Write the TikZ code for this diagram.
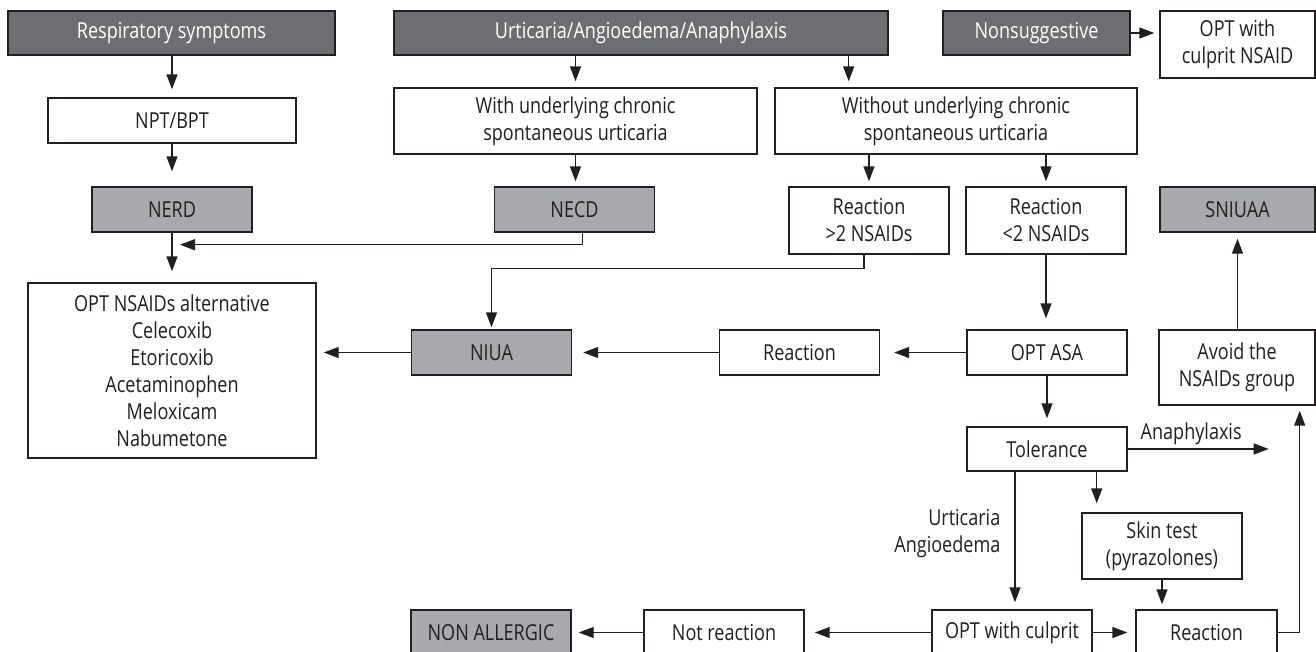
\documentclass[tikz,border=0pt]{standalone}
\usepackage{fontspec}
\setmainfont{Open Sans}[FakeStretch=0.82]
\usepackage{tikz}
\usetikzlibrary{arrows.meta,calc}
\definecolor{boxdark}{HTML}{6D6E71}
\definecolor{boxmid}{HTML}{A7A9AC}
\definecolor{inkgray}{HTML}{231F20}

\begin{document}
\begin{tikzpicture}[
x=1pt,y=-1pt,
every node/.style={font=\fontsize{22}{27}\selectfont,text=inkgray},
sz/.style 2 args={minimum width=#1pt,minimum height=#2pt},
box/.style={draw=inkgray,line width=1.4pt,fill=white,align=center,inner sep=0pt},
dark/.style={box,fill=boxdark,text=white},
mid/.style={box,fill=boxmid},
arr/.style={-{Triangle[length=15pt,width=11pt]},line width=1.4pt,draw=inkgray}
]
\useasboundingbox (0,0) rectangle (1316,651);
\clip (0,0) rectangle (1316,651);

% top row
\node[dark,sz={327}{44}] (resp) at (171.5,33) {Respiratory symptoms};
\node[dark,sz={494}{44}] (urt) at (641,33) {Urticaria/Angioedema/Anaphylaxis};
\node[dark,sz={187}{44}] (nonsug) at (1036.5,33) {Nonsuggestive};
\node[box,sz={155}{67}] (optnsaid) at (1237.5,44.5) {OPT with\\culprit NSAID};
\node[box,sz={248}{45}] (npt) at (172,120.5) {NPT/BPT};
\node[box,sz={363}{66}] (withcsu) at (575.5,121) {With underlying chronic\\spontaneous urticaria};
\node[box,sz={362}{66}] (nocsu) at (956,121) {Without underlying chronic\\spontaneous urticaria};
\node[mid,sz={160}{45}] (nerd) at (172,209.5) {NERD};
\node[mid,sz={160}{45}] (necd) at (574.5,209.5) {NECD};
\node[box,sz={160}{67}] (reacmore) at (869,220.5) {Reaction\\>2 NSAIDs};
\node[box,sz={160}{67}] (reacless) at (1046,220.5) {Reaction\\<2 NSAIDs};
\node[mid,sz={155}{45}] (sniuaa) at (1237.5,209.5) {SNIUAA};
% middle
\node[box,sz={288}{175}] (optalt) at (172,370.5) {OPT NSAIDs alternative\\Celecoxib\\Etoricoxib\\Acetaminophen\\Meloxicam\\Nabumetone};
\node[mid,sz={160}{45}] (niua) at (491.5,352.5) {NIUA};
\node[box,sz={160}{45}] (reacasa) at (799.5,352.5) {Reaction};
\node[box,sz={160}{45}] (optasa) at (1047,352.5) {OPT ASA};
\node[box,sz={156}{75}] (avoid) at (1237,367.5) {Avoid the\\NSAIDs group};
\node[box,sz={160}{44}] (tol) at (1047,449) {Tolerance};
\node[box,sz={160}{66}] (skin) at (1162,546) {Skin test\\(pyrazolones)};
% bottom row
\node[mid,sz={160}{45}] (nonall) at (491,632.5) {NON ALLERGIC};
\node[box,sz={160}{45}] (notreac) at (724,632.5) {Not reaction};
\node[box,sz={160}{45}] (optcul) at (1012,632.5) {OPT with culprit};
\node[box,sz={141}{45}] (reacpos) at (1206.5,632.5) {Reaction};

\coordinate (urtout) at ([xshift=-40pt]urt.south east);
\coordinate (necdout) at ([xshift=8pt]necd.south);
\coordinate (nerdjoin) at ([xshift=8pt,yshift=-12pt]nerd.south);
\coordinate (anaend) at ([xshift=141pt]tol.east);
\coordinate (tolleft) at ([xshift=-32pt]tol.south);
\coordinate (tolright) at ([xshift=-31pt]tol.south east);
\coordinate (avoidin) at ([xshift=-16pt]avoid.south east);

\draw[arr,shorten >=8pt] (resp.south -| npt) -- (npt);
\draw[arr,shorten >=15pt] (npt) -- (nerd);
\draw[arr,shorten >=11pt] (nerd) -- (optalt);
\draw[arr,shorten >=6pt] (urt.south -| withcsu) -- (withcsu);
\draw[arr,shorten >=6pt] (urtout) -- (urtout |- nocsu.north);
\draw[arr,shorten >=5pt] (nonsug.east) -- (nonsug.east -| optnsaid.west);
\draw[arr,shorten >=5pt] (withcsu.south) -- (withcsu.south |- necd.north);
\draw[arr,shorten >=5pt] (nocsu.south -| reacmore) -- (reacmore);
\draw[arr,shorten >=5pt] (nocsu.south -| reacless) -- (reacless);
\draw[arr] (necdout) |- (nerdjoin);
\draw[arr,shorten >=2pt] ([xshift=-5pt]reacmore.south) -- ++(0,14) -| (niua);
\draw[arr,shorten >=11pt] (reacless.south) -- (reacless.south |- optasa.north);
\draw[arr,shorten >=14pt] (optasa) -- (reacasa);
\draw[arr,shorten >=11pt] (reacasa) -- (niua);
\draw[arr,shorten >=7pt] (niua.west) -- (niua.west -| optalt.east);
\draw[arr,shorten >=6pt] (avoid.north -| sniuaa) -- (sniuaa);
\draw[arr,shorten >=8pt] (optasa) -- (tol);
\draw[arr] (tol.east) -- node[above,pos=0.45] {Anaphylaxis} (anaend);
\draw[arr,shorten >=7pt] (tolleft) -- node[left=14pt,inner sep=0pt,align=right,pos=0.45] {Urticaria\\Angioedema} (tolleft |- optcul.north);
\draw[arr,shorten >=9pt] (tolright) -- (tolright |- skin.north);
\draw[arr,shorten >=5pt] (skin.south) -- (skin.south |- reacpos.north);
\draw[arr,shorten >=8pt] (optcul) -- (reacpos);
\draw[arr,shorten >=10pt] (optcul) -- (notreac);
\draw[arr,shorten >=7pt] (notreac) -- (nonall);
\draw[arr,shorten >=5pt] (reacpos.east) -| (avoidin);
\end{tikzpicture}
\end{document}
